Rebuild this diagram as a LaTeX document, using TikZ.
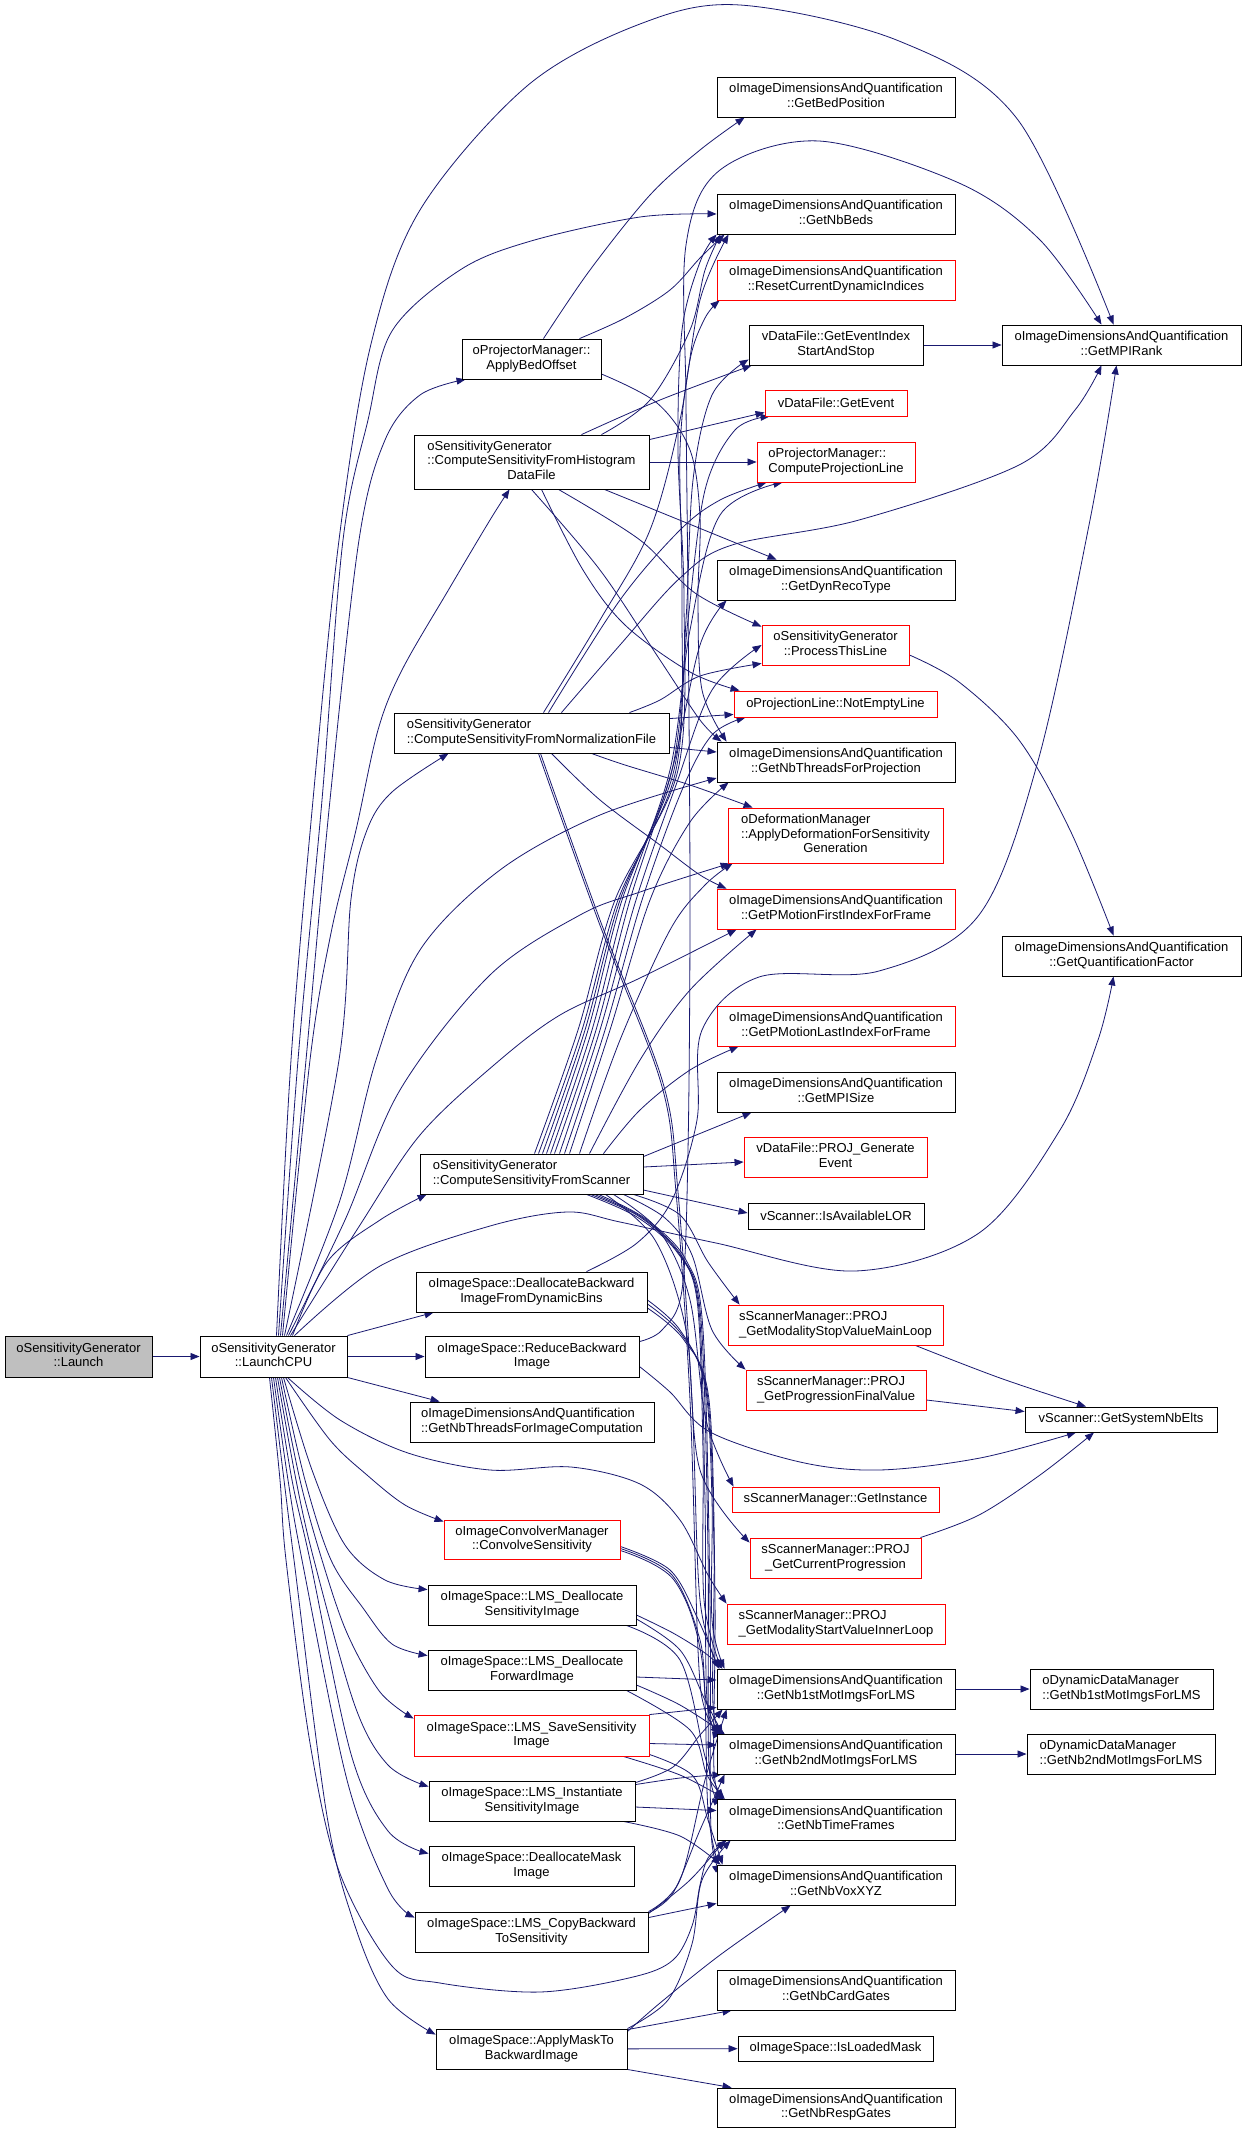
\documentclass[tikz,border=0pt]{standalone}
\usepackage{fontspec}
\setmainfont{Liberation Sans}
\usetikzlibrary{arrows.meta,backgrounds}
\definecolor{edgec}{HTML}{191970}
\definecolor{dred}{HTML}{FF0000}
\definecolor{lgray}{HTML}{BFBFBF}
\newcommand\dl[2]{\begin{tabular}{@{}l@{}}#1\\\multicolumn{1}{@{}c@{}}{#2}\end{tabular}}
\newcommand\E[1]{\draw[cx] plot[smooth,tension=0.55] coordinates {#1};}
\begin{document}
\begin{tikzpicture}[x=1pt,y=-1pt,
  box/.style={draw=black,fill=white,line width=0.9pt,rectangle,inner sep=0pt,font=\fontsize{13}{14.5}\selectfont},
  rbox/.style={box,draw=dred},
  cx/.style={draw=edgec,line width=0.8pt,-{Triangle[length=9pt,width=7pt,fill=edgec]}}]
\useasboundingbox (0,0) rectangle (1245,2134);
% left and middle columns
\node[box,fill=lgray,minimum width=147pt,minimum height=41pt] (L) at (78.5,1356.5) {\dl{oSensitivityGenerator}{::Launch}};
\node[box,minimum width=147pt,minimum height=41pt] (CPU) at (273.5,1356.5) {\dl{oSensitivityGenerator}{::LaunchCPU}};
\node[box,minimum width=139pt,minimum height=40pt] (ABO) at (531.5,359) {\dl{oProjectorManager::}{ApplyBedOffset}};
\node[box,minimum width=235pt,minimum height=54pt] (HIST) at (531.5,462) {\dl{oSensitivityGenerator\\::ComputeSensitivityFromHistogram}{DataFile}};
\node[box,minimum width=275pt,minimum height=40pt] (NORM) at (531.5,733) {\dl{oSensitivityGenerator}{::ComputeSensitivityFromNormalizationFile}};
\node[box,minimum width=223pt,minimum height=40pt] (SCAN) at (531.5,1174) {\dl{oSensitivityGenerator}{::ComputeSensitivityFromScanner}};
\node[box,minimum width=231pt,minimum height=40pt] (DBD) at (531.5,1292) {\dl{oImageSpace::DeallocateBackward}{ImageFromDynamicBins}};
\node[box,minimum width=214pt,minimum height=41pt] (RBI) at (532,1356.5) {\dl{oImageSpace::ReduceBackward}{Image}};
\node[box,minimum width=244pt,minimum height=40pt] (NTIC) at (532,1422) {\dl{oImageDimensionsAndQuantification}{::GetNbThreadsForImageComputation}};
\node[rbox,minimum width=176pt,minimum height=39pt] (CONV) at (532,1539.5) {\dl{oImageConvolverManager}{::ConvolveSensitivity}};
\node[box,minimum width=208pt,minimum height=40pt] (LDS) at (532,1605) {\dl{oImageSpace::LMS\_Deallocate}{SensitivityImage}};
\node[box,minimum width=208pt,minimum height=40pt] (LDF) at (532,1670) {\dl{oImageSpace::LMS\_Deallocate}{ForwardImage}};
\node[rbox,minimum width=235pt,minimum height=41pt] (LSS) at (531.5,1735.5) {\dl{oImageSpace::LMS\_SaveSensitivity}{Image}};
\node[box,minimum width=206pt,minimum height=40pt] (LIS) at (532,1801) {\dl{oImageSpace::LMS\_Instantiate}{SensitivityImage}};
\node[box,minimum width=205pt,minimum height=40pt] (DMI) at (531.5,1866) {\dl{oImageSpace::DeallocateMask}{Image}};
\node[box,minimum width=233pt,minimum height=40pt] (LCB) at (531.5,1932) {\dl{oImageSpace::LMS\_CopyBackward}{ToSensitivity}};
\node[box,minimum width=191pt,minimum height=40pt] (AMB) at (531.5,2049) {\dl{oImageSpace::ApplyMaskTo}{BackwardImage}};
% right columns
\node[box,minimum width=238pt,minimum height=40pt] (BED) at (836,97) {\dl{oImageDimensionsAndQuantification}{::GetBedPosition}};
\node[box,minimum width=238pt,minimum height=40pt] (NBB) at (836,214) {\dl{oImageDimensionsAndQuantification}{::GetNbBeds}};
\node[rbox,minimum width=238pt,minimum height=40pt] (RCD) at (836,280) {\dl{oImageDimensionsAndQuantification}{::ResetCurrentDynamicIndices}};
\node[box,minimum width=174pt,minimum height=40pt] (EIS) at (836,345) {\dl{vDataFile::GetEventIndex}{StartAndStop}};
\node[box,minimum width=239pt,minimum height=40pt] (MPR) at (1121.5,345) {\dl{oImageDimensionsAndQuantification}{::GetMPIRank}};
\node[rbox,minimum width=142pt,minimum height=26pt] (EVT) at (836,403) {vDataFile::GetEvent};
\node[rbox,minimum width=158pt,minimum height=40pt] (CPL) at (836,462) {\dl{oProjectorManager::}{ComputeProjectionLine}};
\node[box,minimum width=238pt,minimum height=40pt] (DRT) at (836,580) {\dl{oImageDimensionsAndQuantification}{::GetDynRecoType}};
\node[rbox,minimum width=147pt,minimum height=40pt] (PTL) at (835.5,645) {\dl{oSensitivityGenerator}{::ProcessThisLine}};
\node[rbox,minimum width=203pt,minimum height=26pt] (NEL) at (835.5,704) {oProjectionLine::NotEmptyLine};
\node[box,minimum width=238pt,minimum height=40pt] (NTP) at (836,762) {\dl{oImageDimensionsAndQuantification}{::GetNbThreadsForProjection}};
\node[rbox,minimum width=215pt,minimum height=55pt] (ADF) at (835.5,835.5) {\dl{oDeformationManager\\::ApplyDeformationForSensitivity}{Generation}};
\node[rbox,minimum width=238pt,minimum height=40pt] (PMF) at (836,909) {\dl{oImageDimensionsAndQuantification}{::GetPMotionFirstIndexForFrame}};
\node[box,minimum width=239pt,minimum height=40pt] (GQF) at (1121.5,956) {\dl{oImageDimensionsAndQuantification}{::GetQuantificationFactor}};
\node[rbox,minimum width=238pt,minimum height=40pt] (PML) at (836,1026) {\dl{oImageDimensionsAndQuantification}{::GetPMotionLastIndexForFrame}};
\node[box,minimum width=238pt,minimum height=40pt] (MPS) at (836,1092) {\dl{oImageDimensionsAndQuantification}{::GetMPISize}};
\node[rbox,minimum width=183pt,minimum height=40pt] (GEN) at (835.5,1157) {\dl{vDataFile::PROJ\_Generate}{Event}};
\node[box,minimum width=176pt,minimum height=26pt] (LOR) at (836,1216) {vScanner::IsAvailableLOR};
\node[rbox,minimum width=215pt,minimum height=40pt] (MSV) at (835.5,1325) {\dl{sScannerManager::PROJ}{\_GetModalityStopValueMainLoop}};
\node[rbox,minimum width=180pt,minimum height=40pt] (PFV) at (836,1390) {\dl{sScannerManager::PROJ}{\_GetProgressionFinalValue}};
\node[box,minimum width=192pt,minimum height=25pt] (GSN) at (1121,1419.5) {vScanner::GetSystemNbElts};
\node[rbox,minimum width=207pt,minimum height=25pt] (INST) at (835.5,1499.5) {sScannerManager::GetInstance};
\node[rbox,minimum width=171pt,minimum height=40pt] (PCP) at (835.5,1558) {\dl{sScannerManager::PROJ}{\_GetCurrentProgression}};
\node[rbox,minimum width=218pt,minimum height=40pt] (MSI) at (836,1624) {\dl{sScannerManager::PROJ}{\_GetModalityStartValueInnerLoop}};
\node[box,minimum width=238pt,minimum height=40pt] (N1) at (836,1689) {\dl{oImageDimensionsAndQuantification}{::GetNb1stMotImgsForLMS}};
\node[box,minimum width=183pt,minimum height=40pt] (DN1) at (1121.5,1689) {\dl{oDynamicDataManager}{::GetNb1stMotImgsForLMS}};
\node[box,minimum width=238pt,minimum height=40pt] (N2) at (836,1754) {\dl{oImageDimensionsAndQuantification}{::GetNb2ndMotImgsForLMS}};
\node[box,minimum width=188pt,minimum height=40pt] (DN2) at (1121,1754) {\dl{oDynamicDataManager}{::GetNb2ndMotImgsForLMS}};
\node[box,minimum width=238pt,minimum height=41pt] (NTF) at (836,1819.5) {\dl{oImageDimensionsAndQuantification}{::GetNbTimeFrames}};
\node[box,minimum width=238pt,minimum height=40pt] (VOX) at (836,1885) {\dl{oImageDimensionsAndQuantification}{::GetNbVoxXYZ}};
\node[box,minimum width=238pt,minimum height=40pt] (NCG) at (836,1990) {\dl{oImageDimensionsAndQuantification}{::GetNbCardGates}};
\node[box,minimum width=195pt,minimum height=25pt] (ILM) at (835.5,2048.5) {oImageSpace::IsLoadedMask};
\node[box,minimum width=238pt,minimum height=39pt] (NRG) at (836,2107.5) {\dl{oImageDimensionsAndQuantification}{::GetNbRespGates}};

\begin{scope}[on background layer]
\fill[white] (0,0) rectangle (1245,2134);
% Launch
\draw[cx] (L) -- (CPU);
% LaunchCPU upwards
\E{([xshift=3pt]CPU.north) (291,1060) (313,800) (339,540) (371,344) (420,210) (527,86) (640,24) (740,5) (899,41) (1018,120) ([xshift=-8pt]MPR.north)}
\E{([xshift=5pt]CPU.north) (298,1060) (322,800) (343,540) (368,420) (392,331) (460,270) (531,241) (640,217) (NBB.west)}
\E{([xshift=7pt]CPU.north) (306,1060) (330,800) (359,540) (385,440) (420,395) ([xshift=4pt]ABO.south west)}
\E{([xshift=9pt]CPU.north) (310,1060) (331,933) (356,830) (378,730) (402,670) (449,589) (490,520) ([xshift=-22pt]HIST.south)}
\E{([xshift=11pt]CPU.north) (339,1060) (351,899) (367,830) (392,792) ([xshift=-83pt]NORM.south)}
\E{([xshift=13pt]CPU.north) (340,1200) (376,1060) (420,950) (500,870) (600,815) ([yshift=-16pt]NTP.west)}
\E{([xshift=15pt]CPU.north) (345,1220) (400,1090) (490,975) (580,915) (640,892) ([xshift=2pt]ADF.south west)}
\E{([xshift=17pt]CPU.north) (360,1225) (420,1135) (494,1065) (560,1015) (640,978) ([xshift=20pt]PMF.south west)}
\E{([xshift=19pt]CPU.north) (327,1262) (380,1220) ([xshift=7pt]SCAN.south west)}
\E{([xshift=21pt]CPU.north) (380,1266) (490,1226) (567,1212) (620,1222) (716,1243) (855,1271) (979,1233) (1060,1130) (1098,1040) ([xshift=-8pt]GQF.south)}
\draw[cx] (CPU.north east) -- ([xshift=18pt]DBD.south west);
\draw[cx] (CPU) -- (RBI);
\draw[cx] (CPU.south east) -- ([xshift=30pt]NTIC.north west);
% LaunchCPU downwards
\E{([xshift=14pt]CPU.south) (340,1420) (408,1453) (490,1470) (571,1467) (640,1484) (680,1520) (708,1575) (MSI.north west)}
\E{([xshift=12pt]CPU.south) (330,1440) (367,1475) (405,1505) ([yshift=-2pt]CONV.north west)}
\E{([xshift=10pt]CPU.south) (312,1470) (345,1545) (385,1580) ([yshift=-5pt]LDS.north west)}
\E{([xshift=8pt]CPU.south) (305,1480) (331,1560) (363,1608) (392,1644) ([yshift=-6pt]LDF.north west)}
\E{([xshift=6pt]CPU.south) (300,1480) (322,1560) (347,1633) (380,1692) ([yshift=-4pt]LSS.north west)}
\E{([xshift=4pt]CPU.south) (296,1480) (314,1560) (355,1706) (388,1765) ([yshift=-6pt]LIS.north west)}
\E{([xshift=2pt]CPU.south) (292,1480) (310,1560) (351,1754) (388,1831) ([yshift=-8pt]DMI.north west)}
\E{(CPU.south) (288,1480) (302,1560) (347,1780) (388,1889) ([yshift=-6pt]LCB.north west)}
\E{([xshift=-2pt]CPU.south) (284,1480) (294,1560) (327,1816) (355,1926) (388,1999) ([yshift=-6pt]AMB.north west)}
\E{([xshift=-4pt]CPU.south) (280,1480) (286,1560) (310,1743) (339,1871) (392,1966) (440,1983) (540,1992) (633,1977) (673,1960) (692,1926) (700,1885) (708,1858) ([xshift=10pt]NTF.south west)}
% ApplyBedOffset
\E{([xshift=12pt]ABO.north) (590,270) (650,195) (700,150) ([xshift=28pt]BED.south west)}
\E{([xshift=48pt]ABO.north) (625,318) (670,290) (700,258) ([xshift=8pt]NBB.south west)}
\E{([yshift=-15pt]ABO.east) (657,403) (690,450) (700,517) (698,600) (702,690) ([xshift=10pt]NTP.north west)}
% Histogram
\E{([xshift=70pt]HIST.north) (650,400) (690,330) (705,270) ([xshift=4pt]NBB.south west)}
\E{([xshift=50pt]HIST.north) (660,400) ([xshift=3pt]EIS.south west)}
\draw[cx] ([yshift=-5pt]HIST.north east) -- ([yshift=4pt]EVT.south west);
\draw[cx] (HIST.east) -- (CPL.west);
\draw[cx] ([xshift=-45pt]HIST.south east) -- ([xshift=60pt]DRT.north west);
\E{([xshift=27pt]HIST.south) (640,540) (695,593) ([yshift=-2pt]PTL.north west)}
\E{([xshift=10pt]HIST.south) (583,570) (625,625) (690,672) ([xshift=6pt]NEL.north west)}
\E{(HIST.south) (600,570) (660,660) (700,720) ([xshift=5pt]NTP.north west)}
% Normalization
\E{([xshift=12pt]NORM.north) (600,620) (650,530) (680,420) (700,300) ([xshift=12pt]NBB.south west)}
\E{([xshift=17pt]NORM.north) (620,600) (680,530) (720,500) ([xshift=10pt]CPL.south west)}
\E{([xshift=30pt]NORM.north) (620,645) (680,578) (732,545) (859,520) (1019,465) (1075,410) ([xshift=-20pt]MPR.south)}
\E{([xshift=-40pt]NORM.north east) (660,700) (700,676) ([yshift=2pt]PTL.south west)}
\draw[cx] ([yshift=-6pt]NORM.north east) -- ([yshift=3pt]NEL.south west);
\draw[cx] ([yshift=6pt]NORM.south east) -- ([yshift=10pt]NTP.west);
\E{([xshift=60pt]NORM.south) (625,765) (690,785) ([xshift=25pt]ADF.north west)}
\E{([xshift=20pt]NORM.south) (600,800) (660,845) (700,875) ([xshift=10pt]PMF.north west)}
\E{([xshift=9pt]NORM.south) (600,920) (663,1083) (678,1192) (692,1400) (700,1600) ([xshift=3pt]N1.north west)}
\E{([xshift=7pt]NORM.south) (598,920) (661,1083) (676,1192) (690,1400) (698,1650) (705,1710) ([xshift=3pt]N2.north west)}
% Scanner upwards
\E{([xshift=3pt]SCAN.north) (578,1030) (615,900) (678,770) (684,600) (678,450) (682,330) (700,262) (NBB.south west)}
\E{([xshift=7pt]SCAN.north) (582,1030) (618,900) (676,770) (682,600) (680,450) (690,360) (705,318) ([xshift=3pt]RCD.south west)}
\E{([xshift=11pt]SCAN.north) (585,1030) (620,900) (674,770) (686,620) (693,480) (712,395) ([yshift=6pt]EIS.south west)}
\E{([xshift=15pt]SCAN.north) (588,1030) (622,900) (672,770) (688,620) (705,490) (735,430) ([xshift=5pt]EVT.south west)}
\E{([xshift=19pt]SCAN.north) (592,1030) (626,900) (670,770) (690,630) (720,515) ([xshift=26pt]CPL.south west)}
\E{([xshift=23pt]SCAN.north) (596,1030) (630,900) (672,770) (700,645) ([xshift=10pt]DRT.south west)}
\E{([xshift=28pt]SCAN.north) (600,1030) (636,900) (676,785) (712,690) (PTL.west)}
\E{([xshift=33pt]SCAN.north) (605,1030) (642,900) (682,790) (712,735) ([xshift=12pt]NEL.south west)}
\E{([xshift=38pt]SCAN.north) (610,1030) (650,900) (690,822) ([xshift=12pt]NTP.south west)}
\E{([xshift=48pt]SCAN.north) (620,1040) (670,930) (705,885) ([xshift=5pt]ADF.south west)}
\E{([xshift=58pt]SCAN.north) (640,1060) (690,990) ([xshift=40pt]PMF.south west)}
\E{([xshift=72pt]SCAN.north) (640,1110) (690,1070) ([xshift=22pt]PML.south west)}
\draw[cx] ([yshift=-3pt]SCAN.north east) -- ([xshift=35pt]MPS.south west);
% Scanner right / down
\draw[cx] ([yshift=7pt]SCAN.east) -- ([yshift=-5pt]GEN.west);
\draw[cx] ([yshift=-16pt]SCAN.east) -- ([yshift=3pt]LOR.west);
\E{([xshift=-10pt]SCAN.south east) (680,1215) (708,1262) ([xshift=12pt]MSV.north west)}
\E{([xshift=-20pt]SCAN.south east) (665,1218) (692,1255) (712,1330) (PFV.north west)}
\E{([xshift=-30pt]SCAN.south east) (660,1232) (690,1300) (706,1420) ([xshift=2pt]INST.north west)}
\E{([xshift=-38pt]SCAN.south east) (655,1240) (686,1330) (700,1470) ([yshift=-5pt]PCP.north west)}
\E{([xshift=55pt]SCAN.south) (637,1217) (677,1252) (697,1300) (703,1450) (704,1600) ([xshift=5pt]N1.north west)}
\E{([xshift=59pt]SCAN.south) (640,1217) (680,1255) (699,1310) (705,1500) (707,1700) ([xshift=5pt]N2.north west)}
\E{([xshift=63pt]SCAN.south) (643,1218) (683,1258) (701,1320) (708,1550) (709,1765) ([xshift=5pt]NTF.north west)}
\E{([xshift=67pt]SCAN.south) (646,1219) (686,1260) (703,1330) (710,1600) (711,1830) ([xshift=5pt]VOX.north west)}
% DeallocateBackward
\E{([xshift=55pt]DBD.north) (637,1243) (672,1200) (697,1120) (702,1030) (759,977) (879,971) (979,915) (1038,761) (1090,520) ([xshift=-5pt]MPR.south)}
\E{([yshift=-8pt]DBD.east) (680,1330) (705,1385) (712,1500) (712,1620) ([xshift=8pt]N1.north west)}
\E{([yshift=-12pt]DBD.east) (682,1335) (707,1392) (714,1550) (713,1705) ([xshift=8pt]N2.north west)}
\E{([yshift=-16pt]DBD.east) (684,1340) (709,1400) (715,1600) (714,1770) ([xshift=8pt]NTF.north west)}
% ReduceBackward
\E{([yshift=-6pt]RBI.north east) (662,1330) (682,1290) (688,1150) (690,900) (688,600) (686,400) (686,245) (720,170) (819,141) (959,183) (1040,240) ([xshift=-20pt]MPR.north)}
\E{([yshift=-10pt]RBI.east) (670,1392) (710,1432) (800,1462) (879,1470) (980,1458) ([xshift=-45pt]GSN.south)}
% Convolve
\E{([yshift=-7pt]CONV.east) (670,1570) (697,1617) ([xshift=2pt]N1.north west)}
\E{([yshift=-9pt]CONV.east) (672,1575) (700,1640) (706,1700) ([xshift=2pt]N2.north west)}
\E{([yshift=-11pt]CONV.east) (674,1580) (702,1660) (708,1810) ([xshift=2pt]VOX.north west)}
% LMS deallocate sensitivity
\E{([yshift=-10pt]LDS.east) (673,1633) (705,1653) ([xshift=6pt]N1.north west)}
\E{([yshift=-14pt]LDS.east) (680,1650) (705,1700) ([xshift=6pt]N2.north west)}
\E{([xshift=-10pt]LDS.south east) (680,1660) (706,1760) ([xshift=6pt]NTF.north west)}
% LMS deallocate forward
\draw[cx] ([yshift=-7pt]LDF.east) -- ([yshift=9pt]N1.west);
\E{([yshift=-15pt]LDF.east) (680,1705) ([xshift=8pt]N2.north west)}
\E{([xshift=-10pt]LDF.south east) (690,1730) (707,1775) ([xshift=8pt]NTF.north west)}
% LMS save
\draw[cx] (LSS.north east) -- ([yshift=2pt]N1.south west);
\draw[cx] ([yshift=-8pt]LSS.east) -- ([yshift=9pt]N2.west);
\E{([xshift=-26pt]LSS.south east) (680,1775) ([xshift=8pt]NTF.north west)}
\E{([yshift=2pt]LSS.south east) (693,1776) (708,1820) ([xshift=6pt]VOX.north west)}
% LMS instantiate
\E{([yshift=-2pt]LIS.north east) (673,1767) (700,1735) ([xshift=6pt]N1.south west)}
\E{([yshift=-4pt]LIS.north east) (680,1778) ([xshift=5pt]N2.south west)}
\draw[cx] ([yshift=-6pt]LIS.east) -- ([yshift=9pt]NTF.west);
\E{([xshift=-12pt]LIS.south east) (680,1836) ([xshift=4pt]VOX.north west)}
% LMS copy backward
\E{(LCB.north east) (680,1880) (705,1780) ([xshift=10pt]N1.south west)}
\E{([yshift=-1pt]LCB.north east) (673,1893) (700,1830) ([xshift=8pt]N2.south west)}
\E{([yshift=-2pt]LCB.north east) (690,1880) ([xshift=8pt]NTF.south west)}
\draw[cx] ([yshift=-6pt]LCB.north east) -- ([yshift=2pt]VOX.south west);
% Apply mask
\E{(AMB.north east) (668,2000) (692,1944) (702,1880) ([xshift=14pt]NTF.south west)}
\E{([yshift=-3pt]AMB.north east) (660,2003) (720,1955) ([xshift=74pt]VOX.south west)}
\draw[cx] ([yshift=-1pt]AMB.north east) -- ([xshift=15pt]NCG.south west);
\draw[cx] (AMB) -- (ILM);
\draw[cx] (AMB.south east) -- ([xshift=15pt]NRG.north west);
% right column internal
\draw[cx] (EIS) -- (MPR);
\E{([xshift=-28pt]MSV.south east) (1000,1378) ([xshift=-35pt]GSN.north)}
\draw[cx] ([yshift=-10pt]PFV.east) -- ([yshift=8pt]GSN.west);
\E{([xshift=-1pt]PCP.north east) (979,1515) (1040,1475) ([xshift=-27pt]GSN.south)}
\E{([yshift=-10pt]PTL.east) (959,682) (1019,740) (1070,830) ([xshift=-8pt]GQF.north)}
\draw[cx] (N1) -- (DN1);
\draw[cx] (N2) -- (DN2);
\end{scope}
\end{tikzpicture}
\end{document}
